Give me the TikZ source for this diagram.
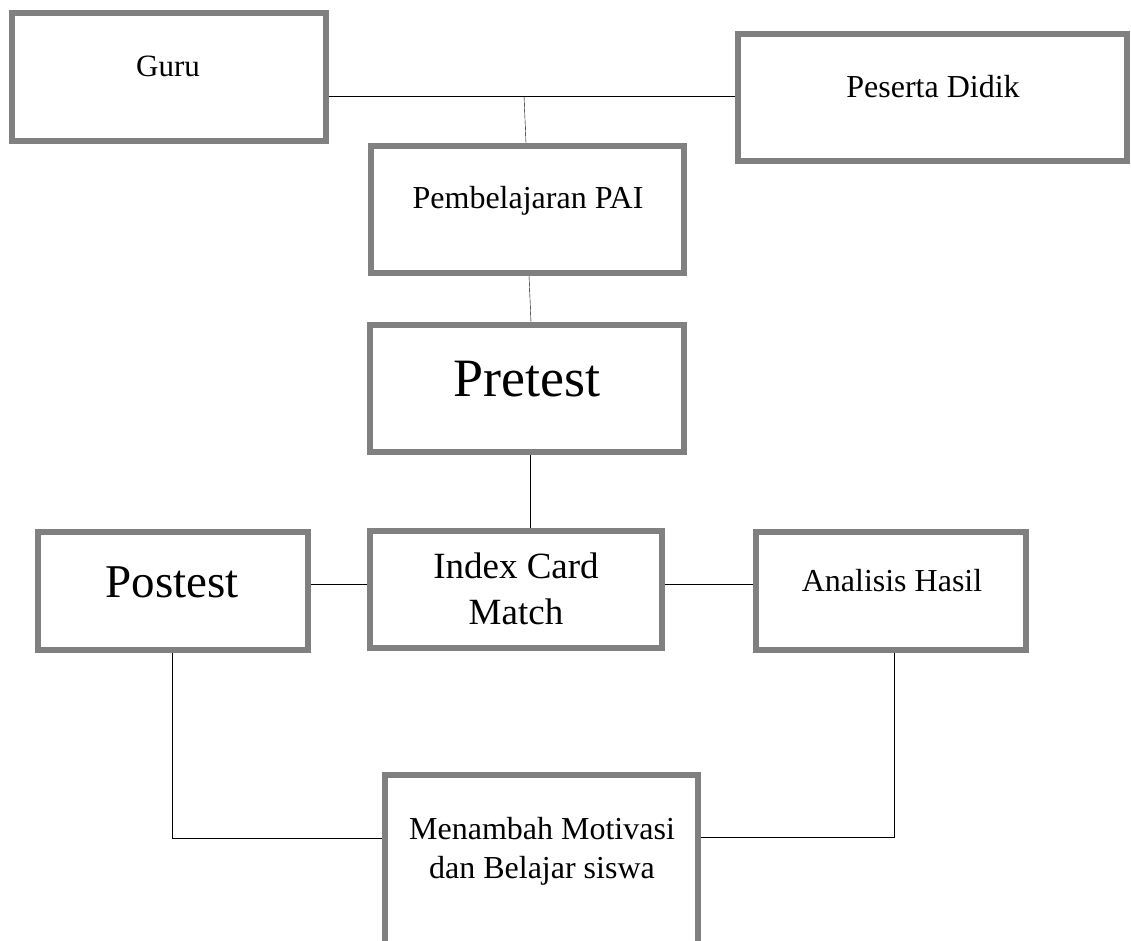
\documentclass[tikz,border=0pt]{standalone}
\usepackage{fontspec}
\setmainfont{Liberation Serif}
\usetikzlibrary{backgrounds}
\definecolor{abu}{HTML}{808080}
\tikzset{
  kotak/.style 2 args={draw=abu, line width=5.5pt, inner sep=0pt,
    minimum width=#1, minimum height=#2},
  teks/.style 2 args={anchor=base, inner sep=0pt, align=center,
    font=\fontsize{#1}{#2}\selectfont},
  garis/.style={line width=1.5pt}
}
\begin{document}
\begin{tikzpicture}[x=1pt, y=-1pt]
  \useasboundingbox (0,0) rectangle (1131,941);
  \clip (0,0) rectangle (1131,941);
  % kotak
  \node[kotak={314}{128}] (guru) at (169,77) {};
  \node[kotak={389}{127}] (peserta) at (932.5,97.5) {};
  \node[kotak={313}{127}] (pai) at (527.5,209.5) {};
  \node[kotak={314}{127}] (pretest) at (527,388.5) {};
  \node[kotak={292}{117}] (index) at (516,589.5) {};
  \node[kotak={270}{118}] (postest) at (173,591) {};
  \node[kotak={270}{118}] (analisis) at (891,591) {};
  \node[kotak={313}{226}] (motivasi) at (541.5,888) {};
  % teks
  \node[teks={31}{37}] (guru-t) at (168,77) {Guru};
  \node[teks={32}{38}] (peserta-t) at (933,98) {Peserta Didik};
  \node[teks={32}{38}] (pai-t) at (528,209) {Pembelajaran PAI};
  \node[teks={54}{64}] (pretest-t) at (527,396) {Pretest};
  \node[teks={37}{46}] (index-t) at (516,624) {Index Card\\Match};
  \node[teks={47}{56}] (postest-t) at (172,597) {Postest};
  \node[teks={32}{38}] (analisis-t) at (892,591) {Analisis Hasil};
  \node[teks={32}{39}] (motivasi-t) at (542,878) {Menambah Motivasi\\dan Belajar siswa};
  % garis
  \coordinate (cabang) at (524,96);
  \begin{scope}[on background layer, garis]
    \draw (guru.east |- cabang) -- (peserta.west |- cabang);
    \draw (cabang) -- ([xshift=-1.5pt]pai.north);
    \draw ([xshift=1.5pt]pai.south) -- ([xshift=4pt]pretest.north);
    \draw ([xshift=3pt]pretest.south) -- ([xshift=3pt]pretest.south |- index.north);
    \draw ([yshift=7pt]postest.east) -- ([yshift=7pt]postest.east -| index.west);
    \draw ([yshift=5.5pt]index.east) -- ([yshift=5.5pt]index.east -| analisis.west);
    \draw ([xshift=-1pt]postest.south) |- ([yshift=50pt]motivasi.west);
    \draw ([xshift=3pt]analisis.south) |- ([yshift=51pt]motivasi.east);
  \end{scope}
\end{tikzpicture}
\end{document}
